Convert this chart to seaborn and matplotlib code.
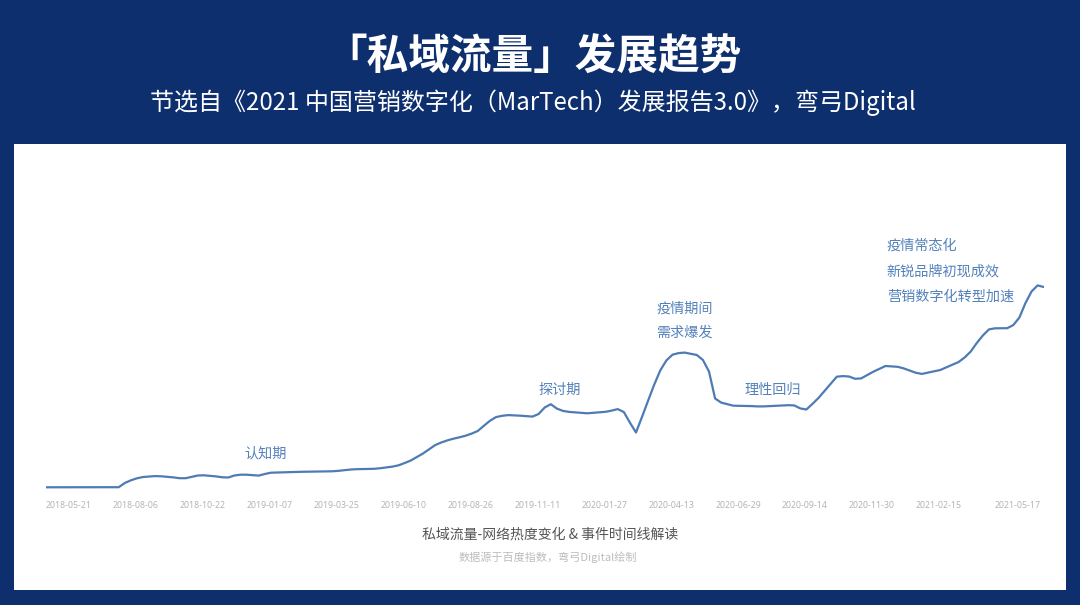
import matplotlib
matplotlib.use("Agg")
import matplotlib.pyplot as plt
import matplotlib.patches as mpatches
import pandas as pd
import seaborn as sns

# weekly Baidu index readings, first week 2018-05-21
start_week = "2018-05-21"
heat_index = [
    127, 127, 127, 127, 127, 127, 127, 127, 127, 127, 127, 127, 128, 170, 197, 217,
    230, 234, 239, 237, 232, 226, 218, 218, 232, 245, 247, 242, 236, 227, 225, 245,
    253, 253, 249, 244, 260, 273, 275, 278, 280, 281, 282, 283, 284, 285, 286, 287,
    291, 298, 304, 308, 309, 311, 312, 318, 326, 334, 347, 370, 395, 430, 465, 507,
    549, 575, 596, 613, 627, 643, 664, 690, 742, 792, 829, 842, 849, 846, 843, 838,
    834, 860, 925, 958, 914, 891, 881, 876, 871, 867, 872, 877, 882, 894, 909, 880,
    774, 675, 832, 995, 1154, 1297, 1396, 1453, 1469, 1474, 1462, 1450, 1400, 1285, 1015, 974,
    958, 943, 942, 941, 939, 936, 936, 939, 942, 945, 948, 946, 916, 905, 961, 1021,
    1092, 1163, 1233, 1239, 1235, 1212, 1216, 1249, 1283, 1312, 1340, 1336, 1332, 1316, 1294, 1272,
    1261, 1274, 1287, 1300, 1327, 1353, 1379, 1425, 1484, 1570, 1645, 1706, 1717, 1717, 1718, 1749,
    1824, 1969, 2085, 2146, 2130,
]

tick_labels = [
    "2018-05-21", "2018-08-06", "2018-10-22", "2019-01-07", "2019-03-25",
    "2019-06-10", "2019-08-26", "2019-11-11", "2020-01-27", "2020-04-13",
    "2020-06-29", "2020-09-14", "2020-11-30", "2021-02-15", "2021-05-17",
]

title = "「私域流量」发展趋势"
subtitle = "节选自《2021 中国营销数字化（MarTech）发展报告3.0》，弯弓Digital"
caption = "私域流量-网络热度变化 & 事件时间线解读"
source = "数据源于百度指数，弯弓Digital绘制"

NAVY = "#0e2f6e"
LINE = "#4e7bb4"
NOTE = "#5482bb"

df = pd.DataFrame({
    "week": pd.date_range(start_week, periods=len(heat_index), freq="7D"),
    "index": heat_index,
})

sns.set_style("white")
plt.rcParams["font.family"] = ["Noto Sans CJK SC", "DejaVu Sans"]

fig = plt.figure(figsize=(10.8, 6.05), dpi=100, facecolor=NAVY)

# white card behind the chart
fig.patches.append(mpatches.Rectangle((14 / 1080, 1 - 590 / 605), 1052 / 1080, 446 / 605,
                                      transform=fig.transFigure, facecolor="white",
                                      edgecolor="none", zorder=-5))

ax = fig.add_axes([45.7 / 1080, 1 - 490 / 605, 998 / 1080, 220 / 605])
ax.set_zorder(2)
ax.set_facecolor("none")
sns.lineplot(data=df, x="week", y="index", ax=ax, color=LINE, linewidth=1.6)

ax.set_xlim(df["week"].iloc[0], df["week"].iloc[-1])
ax.set_ylim(100, 2300)
for s in ax.spines.values():
    s.set_visible(False)
ax.set_xlabel("")
ax.set_ylabel("")
ax.set_yticks([])
ax.set_xticks(pd.to_datetime(tick_labels))
ax.set_xticklabels(tick_labels, ha="left", fontsize=6.3, color="#b4b4b4",
                   family=["Noto Sans", "DejaVu Sans"])
ax.tick_params(axis="x", length=0, pad=8)


def wk(n):
    return pd.Timestamp(start_week) + pd.Timedelta(weeks=n)


note_kw = dict(color=NOTE, fontsize=10.2, clip_on=False, va="center")
ax.text(wk(36.2), 470, "认知期", ha="center", **note_kw)
ax.text(wk(84.5), 1100, "探讨期", ha="center", **note_kw)
ax.text(wk(105), 1910, "疫情期间", ha="center", **note_kw)
ax.text(wk(105), 1670, "需求爆发", ha="center", **note_kw)
ax.text(wk(119.5), 1100, "理性回归", ha="center", **note_kw)
ax.text(wk(138.2), 2540, "疫情常态化", ha="left", **note_kw)
ax.text(wk(138.2), 2283, "新锐品牌初现成效", ha="left", **note_kw)
ax.text(wk(138.2), 2033, "营销数字化转型加速", ha="left", **note_kw)

fig.text(533 / 1080, 1 - 58 / 605, title, ha="center", va="center", color="white",
         fontsize=30, fontweight="bold")
fig.text(533 / 1080, 1 - 103 / 605, subtitle, ha="center", va="center", color="white",
         fontsize=17.3)
fig.text(550 / 1080, 1 - 535 / 605, caption, ha="center", va="center", color="#555555",
         fontsize=10)
fig.text(548 / 1080, 1 - 557 / 605, source, ha="center", va="center", color="#bdbdbd",
         fontsize=8)

fig.savefig("out.png", dpi=100, facecolor=NAVY)
